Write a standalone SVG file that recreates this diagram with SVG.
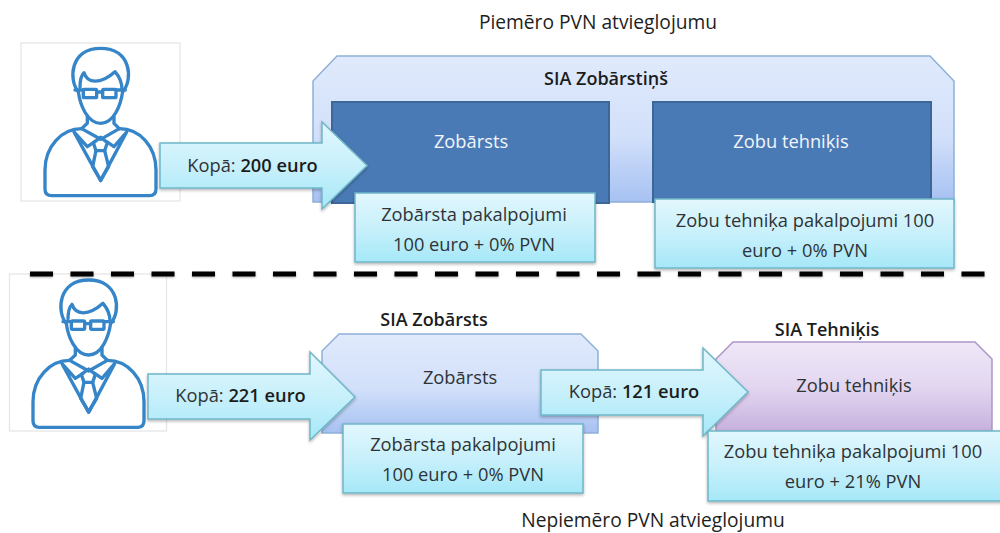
<svg xmlns="http://www.w3.org/2000/svg" xmlns:xlink="http://www.w3.org/1999/xlink" width="1000" height="533" viewBox="0 0 1000 533">
<style>
text{font-family:"Open Sans","Noto Sans",sans-serif;font-size:18.300px;fill:#2f3336;text-anchor:middle}
.b{font-weight:600;fill:#1c1c1c}
.s{font-size:18px}
.w{fill:#f2f5fa}
.h{fill:#1e1e1e;font-size:19.200px}
.frame{fill:#fff;stroke:#e6e6e6;stroke-width:1.3}
.outer{fill:url(#blue);stroke:#8fb0d8;stroke-width:1.5}
.purple{fill:url(#purple);stroke:#ab96c6;stroke-width:1.5}
.inner{fill:#4a7ab5;stroke:#3d6797;stroke-width:2}
.teal{fill:url(#teal);stroke:#6fb7c9;stroke-width:1.5;filter:url(#sh)}
.ic{fill:none;stroke:#3585c8;stroke-width:10;stroke-linejoin:round;stroke-linecap:round}
#divider line{stroke:#000;stroke-width:5;stroke-dasharray:23 17.500;filter:url(#dsh)}
</style>
<defs>
<linearGradient id="blue" x1="0" y1="0" x2="0" y2="1"><stop offset="0" stop-color="#e0eafc"/><stop offset=".55" stop-color="#d2e0fa"/><stop offset="1" stop-color="#a6c1f2"/></linearGradient>
<linearGradient id="purple" x1="0" y1="0" x2="0" y2="1"><stop offset="0" stop-color="#efe8f8"/><stop offset=".5" stop-color="#e2d6f0"/><stop offset="1" stop-color="#c6b0de"/></linearGradient>
<linearGradient id="teal" x1="0" y1="0" x2="0" y2="1"><stop offset="0" stop-color="#e2f7fd"/><stop offset=".5" stop-color="#c8f0fb"/><stop offset="1" stop-color="#a6e8f8"/></linearGradient>
<filter id="sh" x="-5%" y="-10%" width="110%" height="125%"><feDropShadow dx="0" dy="1.500" stdDeviation="1.500" flood-color="#000" flood-opacity=".3"/></filter>
<filter id="dsh" filterUnits="userSpaceOnUse" x="0" y="262" width="1000" height="24"><feDropShadow dx="0" dy="1" stdDeviation="1.200" flood-color="#000" flood-opacity=".3"/></filter>
<g id="person" class="ic">
<path d="M235 185C205 150 210 55 302 55C394 55 400 150 368 185"/>
<path d="M240 172C240 150 245 135 252 128C262 160 300 165 345 125C358 140 366 160 366 178"/>
<path d="M235 185C240 225 262 280 302 280C342 280 362 225 368 185"/>
<rect x="250" y="178" width="40" height="25" rx="3"/><rect x="308" y="178" width="40" height="25" rx="3"/>
<path d="M225 180H250M290 186H308M348 180H376"/>
<path d="M262 258V280L245 296M342 258V280L358 296"/>
<path d="M155 497H448Q468 497 468 477V420C468 350 420 296 358 296M155 497Q135 497 135 477V420C135 350 185 296 245 296"/>
<path d="M222 306L302 452L380 306M245 296L302 328L358 296M222 306L262 350L285 335M380 306L342 350L320 335"/>
<path d="M302 322L322 338L314 362H288L280 338Z"/>
<path d="M288 362L278 410L302 450L326 410L314 362"/>
</g>
</defs>
<g id="person-top"><rect class="frame" x="21" y="43" width="159" height="158"/><use href="#person" transform="translate(0 30) scale(.3333)"/></g>
<g id="person-bottom"><rect class="frame" x="9.500" y="274" width="157" height="157"/><use href="#person" transform="translate(-12 261.700) scale(.3333)"/></g>
<g id="sia-zobarstins"><path class="outer" d="M337 56H930L954 81V202H313V81Z"/><text class="b s" x="606" y="85">SIA Zobārstiņš</text></g>
<g id="zobarsts-top"><rect class="inner" x="332" y="102" width="277" height="101"/><text class="w" x="471" y="148">Zobārsts</text></g>
<g id="tehnikis-top"><rect class="inner" x="653" y="102" width="278" height="100"/><text class="w" x="791" y="148">Zobu tehniķis</text></g>
<g id="sia-zobarsts"><text class="b s" x="434" y="326">SIA Zobārsts</text><path class="outer" d="M339 334H581L598 351V433H322V351Z"/><text x="460" y="384">Zobārsts</text></g>
<g id="sia-tehnikis"><text class="b s" x="827" y="336">SIA Tehniķis</text><path class="purple" d="M733 342H975L992 359V432H716V359Z"/><text x="854" y="392">Zobu tehniķis</text></g>
<g id="connectors">
<g id="arrow-200"><path class="teal" d="M160 143H322V122L367 165.500L322 209V188H160Z"/><text x="252.500" y="172">Kopā: <tspan class="b">200 euro</tspan></text></g>
<g id="arrow-221"><path class="teal" d="M148 374H310V352L355 397L310 440V419H148Z"/><text x="240.500" y="402">Kopā: <tspan class="b">221 euro</tspan></text></g>
</g>
<g id="box-zobarsts-top"><rect class="teal" x="355" y="193" width="240" height="69"/><text x="474" y="221">Zobārsta pakalpojumi</text><text x="474" y="251">100 euro + 0% PVN</text></g>
<g id="box-tehnikis-top"><rect class="teal" x="655" y="199" width="299" height="69"/><text x="805" y="227">Zobu tehniķa pakalpojumi 100</text><text x="805" y="257">euro + 0% PVN</text></g>
<g id="box-zobarsts-bottom"><rect class="teal" x="343" y="424" width="240" height="69"/><text x="463" y="451">Zobārsta pakalpojumi</text><text x="463" y="481">100 euro + 0% PVN</text></g>
<g id="arrow-121"><path class="teal" d="M541 370H703V348L748 392L703 436V415H541Z"/><text x="634" y="398">Kopā: <tspan class="b">121 euro</tspan></text></g>
<g id="box-tehnikis-bottom"><rect class="teal" x="708" y="431" width="298" height="70"/><text x="853" y="458">Zobu tehniķa pakalpojumi 100</text><text x="853" y="488">euro + 21% PVN</text></g>
<g id="divider"><line x1="30" y1="274" x2="986" y2="274"/></g>
<text class="h" x="598" y="29">Piemēro PVN atvieglojumu</text>
<text class="h" x="653" y="527">Nepiemēro PVN atvieglojumu</text>
</svg>
